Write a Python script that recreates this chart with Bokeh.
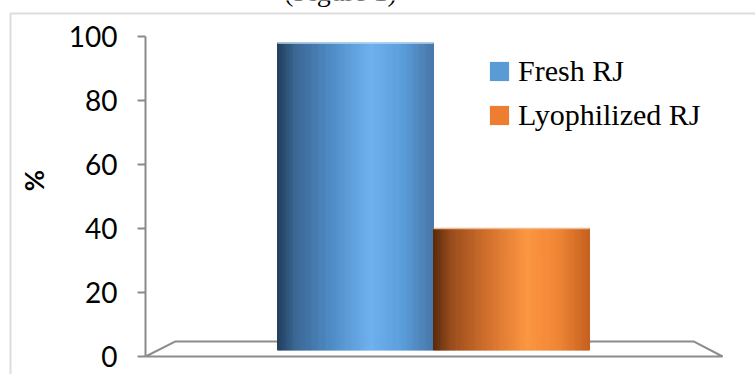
import numpy as np
from bokeh.plotting import figure
from bokeh.models import ColumnDataSource, FixedTicker, Label, BoxAnnotation, Legend, LegendItem
from bokeh.embed import file_html
from bokeh.resources import INLINE

# ---- data ----
series = ["Fresh RJ", "Lyophilized RJ"]
values = [98, 40]
positions = [-0.5, 0.5]
y_ticks = [0, 20, 40, 60, 80, 100]
legend_colors = ["#5b9bd5", "#ed7d31"]

# ---- style constants ----
BAR_W = 1.0
FLOOR = 2.0          # bars start slightly above 0 (3D floor depth)
N_STRIPS = 90
grad_pos = [0.0, 0.12, 0.35, 0.6, 0.8, 1.0]
grad_cols = [
    ["#213d5c", "#3b6894", "#4f8cc6", "#6eb1ef", "#5c9edc", "#4777a8"],
    ["#582a0c", "#9b4d1d", "#d2702d", "#fc9641", "#f08636", "#c5611f"],
]
top_cols = ["#b9d4ee", "#f0b98f"]
X0, X1 = -2.776, 2.064          # whole canvas
Y0, Y1 = -5.625, 111.25
AX_X = -1.846                   # where the value axis stands
FLOOR_R = 1.853
FLOOR_DEPTH = 4.7


def hex2rgb(h):
    h = h.lstrip("#")
    return np.array([int(h[i:i + 2], 16) for i in (0, 2, 4)], dtype=float)


def grad(stops, t):
    rgb = np.array([hex2rgb(c) for c in stops])
    out = []
    for tt in t:
        r = [np.interp(tt, grad_pos, rgb[:, k]) for k in range(3)]
        out.append("#%02x%02x%02x" % tuple(int(round(v)) for v in r))
    return out


p = figure(width=755, height=374, output_backend="svg", toolbar_location=None,
           x_range=(X0, X1), y_range=(Y0, Y1), x_axis_location=None,
           min_border=0, min_border_left=0, min_border_right=0,
           min_border_top=0, min_border_bottom=0,
           background_fill_color="white", border_fill_color="white")
p.outline_line_color = None
p.grid.visible = False

# floor of the 3D plot area
fx = [AX_X, FLOOR_R, FLOOR_R - 0.186, AX_X + 0.192]
fy = [0, 0, FLOOR_DEPTH, FLOOR_DEPTH]
p.patch(fx, fy, fill_color="white", line_color="#8c8c8c", line_width=2)

# gradient cylinders
for i, (pos, val) in enumerate(zip(positions, values)):
    t = (np.arange(N_STRIPS) + 0.5) / N_STRIPS
    left = pos - BAR_W / 2 + np.arange(N_STRIPS) * BAR_W / N_STRIPS
    right = left + BAR_W / N_STRIPS
    src = ColumnDataSource(dict(left=left, right=right,
                                top=np.full(N_STRIPS, float(val)),
                                bottom=np.full(N_STRIPS, FLOOR),
                                color=grad(grad_cols[i], t)))
    p.quad(left="left", right="right", top="top", bottom="bottom",
           fill_color="color", line_color="color", line_width=1, source=src)
    p.segment(x0=[pos - BAR_W / 2], x1=[pos + BAR_W / 2], y0=[val], y1=[val],
              line_color=top_cols[i], line_width=1.5)

# legend (zero-height quads at the bars' base carry the flat legend colour)
items = []
for name, col, pos in zip(series, legend_colors, positions):
    r = p.quad(left=[pos - BAR_W / 2], right=[pos + BAR_W / 2], top=[FLOOR], bottom=[FLOOR],
               fill_color=col, line_color=None)
    items.append(LegendItem(label=name, renderers=[r]))
legend = Legend(items=items, location=(487, 242), padding=0, margin=0,
                border_line_color=None, background_fill_alpha=0,
                glyph_width=24, glyph_height=24, label_height=24,
                label_standoff=7, spacing=10,
                label_text_font="Liberation Serif", label_text_font_size="30px",
                label_text_color="#000000")
p.add_layout(legend, "center")

# y axis, standing inside the canvas
ax = p.yaxis[0]
ax.fixed_location = AX_X
ax.ticker = FixedTicker(ticks=y_ticks)
ax.bounds = (0, 100)
ax.axis_line_color = "#8a8a8a"
ax.axis_line_width = 2
ax.major_tick_line_color = "#8a8a8a"
ax.major_tick_line_width = 2
ax.major_tick_out = 8
ax.major_tick_in = 0
ax.minor_tick_line_color = None
ax.major_label_standoff = 20
ax.major_label_text_font = "Lato"
ax.major_label_text_font_size = "28px"
ax.major_label_text_color = "#000000"

# "%" axis title
p.add_layout(Label(x=33, y=194, x_units="screen", y_units="screen", text="%",
                   angle=np.pi / 2, text_align="center", text_baseline="middle",
                   text_font="Lato", text_font_size="26px", text_font_style="bold",
                   text_color="#000000"))

# cut-off caption at top
p.add_layout(Label(x=340, y=383, x_units="screen", y_units="screen", text="(Figure 1)",
                   text_align="center", text_baseline="alphabetic",
                   text_font="Liberation Serif", text_font_size="28px", text_color="#000000"))

# outer chart border
p.add_layout(BoxAnnotation(left=10, right=900, top=361, bottom=-30,
                           left_units="screen", right_units="screen",
                           top_units="screen", bottom_units="screen",
                           fill_alpha=0, line_color="#8c8c8c", line_width=2))

open("out.html", "w").write(file_html(p, INLINE))
